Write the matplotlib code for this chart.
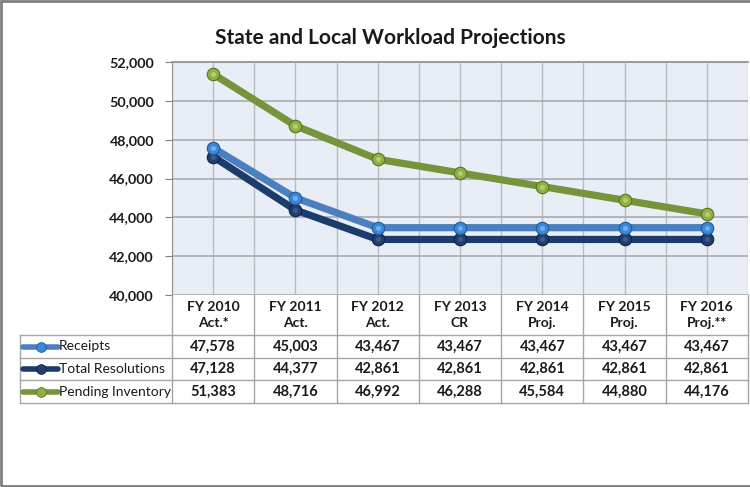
import matplotlib
matplotlib.use("Agg")
import matplotlib.pyplot as plt
from matplotlib.lines import Line2D
from matplotlib.patches import Rectangle

categories = ["FY 2010\nAct.*", "FY 2011\nAct.", "FY 2012\nAct.", "FY 2013\nCR",
              "FY 2014\nProj.", "FY 2015\nProj.", "FY 2016\nProj.**"]
series_names = ["Receipts", "Total Resolutions", "Pending Inventory"]
receipts = [47578, 45003, 43467, 43467, 43467, 43467, 43467]
resolutions = [47128, 44377, 42861, 42861, 42861, 42861, 42861]
pending = [51383, 48716, 46992, 46288, 45584, 44880, 44176]
yticks = [40000, 42000, 44000, 46000, 48000, 50000, 52000]

title = "State and Local Workload Projections"

FONT = "Lato"
W, H = 750, 487
fig = plt.figure(figsize=(W / 100, H / 100), dpi=100)

def fx(px):
    return px / W

def fy(py):
    return 1 - py / H

# plot area
L, R, T, B = 172, 748, 62, 295
ax = fig.add_axes([fx(L), fy(B), fx(R) - fx(L), fy(T) - fy(B)])
ax.set_facecolor("#e9eef6")
n = len(categories)
ax.set_xlim(-0.5, n - 0.5)
ax.set_ylim(yticks[0], yticks[-1])
ax.set_yticks(yticks)
ax.set_yticklabels([f"{v:,}" for v in yticks], fontfamily=FONT, fontweight="bold",
                   fontsize=10.3, color="#1a1a1a")
ax.set_xticks([i for i in range(n)])
ax.set_xticks([i + 0.5 for i in range(-1, n)], minor=True)
ax.set_xticklabels([])
ax.tick_params(axis="x", which="both", length=0)
ax.tick_params(axis="y", length=5, color="#808080", pad=8)
ax.grid(True, which="both", axis="x", color="#b8bcc3", linewidth=1)
ax.grid(True, which="major", axis="y", color="#a8abb0", linewidth=1.2)
ax.set_axisbelow(True)
for s in ["right", "bottom"]:
    ax.spines[s].set_visible(False)
ax.spines["left"].set_color("#909090")
ax.spines["top"].set_color("#909090")
ax.spines["top"].set_linewidth(1.2)

styles = [
    (resolutions, "#1c3d6b", "#213f6e", "#0f2244", "#4a6a9a", 1),
    (receipts, "#4a80c0", "#3b88d8", "#1f5a9a", "#8cc0f0", 2),
    (pending, "#77933c", "#8fb043", "#5a7325", "#c4dc88", 3),
]
xs = list(range(n))
for vals, lc, mfc, mec, hc, z in styles:
    ax.plot(xs, vals, color=lc, linewidth=5.2, solid_capstyle="butt", zorder=z,
            marker="o", markersize=9, markerfacecolor=mfc, markeredgecolor=mec,
            markeredgewidth=0.8)
    ax.plot(xs, vals, linestyle="none", marker="o", markersize=3.5,
            markerfacecolor=hc, markeredgewidth=0, alpha=0.7, zorder=z + 0.1)

# title
fig.text(fx(390), fy(38), title, ha="center", va="center", fontfamily=FONT,
         fontsize=15, fontweight="bold", color="#1a1a1a")

# table
col_w = (R - L) / n
row_lines = [B, 335, 358, 380, 403]
TL = 20
line_c = "#a6a6a6"
def hline(y, x0, x1):
    fig.add_artist(Line2D([fx(x0), fx(x1)], [fy(y), fy(y)], color=line_c, linewidth=1))
def vline(x, y0, y1):
    fig.add_artist(Line2D([fx(x), fx(x)], [fy(y0), fy(y1)], color=line_c, linewidth=1))

for y in row_lines[1:]:
    hline(y, TL, R)
vline(TL, row_lines[1], row_lines[-1])
for i in range(n + 1):
    vline(L + i * col_w, B, row_lines[-1])

for i, c in enumerate(categories):
    cx = L + (i + 0.5) * col_w
    line1, line2 = c.split("\n")
    fig.text(fx(cx), fy(307), line1, ha="center", va="center", fontfamily=FONT,
             fontsize=10, fontweight="bold", color="#1a1a1a")
    fig.text(fx(cx), fy(323), line2, ha="center", va="center", fontfamily=FONT,
             fontsize=10, fontweight="bold", color="#1a1a1a")

table_series = [receipts, resolutions, pending]
key_styles = [styles[1], styles[0], styles[2]]
for r, (name, vals, st) in enumerate(zip(series_names, table_series, key_styles)):
    y0, y1 = row_lines[r + 1], row_lines[r + 2]
    cy = (y0 + y1) / 2
    lc, mfc, mec = st[1], st[2], st[3]
    fig.add_artist(Line2D([fx(23), fx(58)], [fy(cy), fy(cy)], color=lc, linewidth=4,
                          solid_capstyle="round"))
    fig.add_artist(Line2D([fx(40.5)], [fy(cy)], marker="o", markersize=7,
                          markerfacecolor=mfc, markeredgecolor=mec, markeredgewidth=0.6,
                          linestyle="none"))
    fig.text(fx(59), fy(cy), name, ha="left", va="center", fontfamily=FONT,
             fontsize=10, color="#1a1a1a")
    for i, v in enumerate(vals):
        cx = L + (i + 0.5) * col_w
        fig.text(fx(cx), fy(cy), f"{v:,}", ha="center", va="center", fontfamily=FONT,
                 fontsize=10.5, fontweight="bold", color="#1a1a1a")

# outer border
fig.add_artist(Rectangle((0.001, 0.002), 1.2, 0.995, transform=fig.transFigure,
                         fill=False, edgecolor="#7f7f7f", linewidth=2))

fig.savefig("out.png", dpi=100, facecolor="white")
